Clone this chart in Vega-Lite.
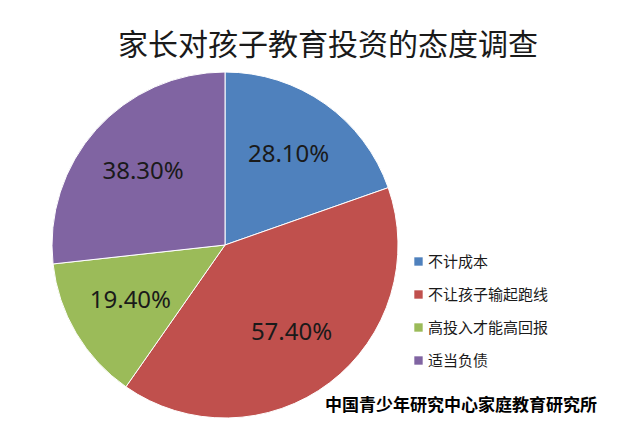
{
  "$schema": "https://vega.github.io/schema/vega-lite/v6.json",
  "background": "white",
  "padding": {"left": 50, "top": 31, "right": 10, "bottom": 5},
  "title": {
    "text": "家长对孩子教育投资的态度调查",
    "font": "Noto Sans CJK SC",
    "fontSize": 30,
    "fontWeight": "normal",
    "color": "#1a1a1a",
    "anchor": "start",
    "dx": 68,
    "offset": 9
  },
  "data": {
    "values": [
      {"idx": 1, "category": "不计成本", "value": 28.1, "label": "28.10%"},
      {"idx": 2, "category": "不让孩子输起跑线", "value": 57.4, "label": "57.40%"},
      {"idx": 3, "category": "高投入才能高回报", "value": 19.4, "label": "19.40%"},
      {"idx": 4, "category": "适当负债", "value": 38.3, "label": "38.30%"}
    ]
  },
  "vconcat": [
    {
      "width": 346,
      "height": 346,
      "title": {
        "text": "中国青少年研究中心家庭教育研究所",
        "orient": "bottom",
        "anchor": "start",
        "font": "Noto Sans CJK SC",
        "fontSize": 17,
        "fontWeight": "bold",
        "color": "#000000",
        "dx": 275,
        "offset": -22
      },
      "encoding": {
        "theta": {"field": "value", "type": "quantitative", "stack": true},
        "order": {"field": "idx", "type": "quantitative"}
      },
      "layer": [
        {
          "mark": {"type": "arc", "stroke": "#ffffff", "strokeWidth": 1, "outerRadius": 173},
          "encoding": {
            "color": {
              "field": "category",
              "type": "nominal",
              "scale": {
                "domain": ["不计成本", "不让孩子输起跑线", "高投入才能高回报", "适当负债"],
                "range": ["#4F81BD", "#C0504D", "#9BBB59", "#8064A2"]
              },
              "legend": {
                "title": null,
                "orient": "none",
                "legendX": 359,
                "legendY": 182,
                "symbolType": "square",
                "symbolSize": 70,
                "symbolStrokeWidth": 0,
                "labelFont": "Noto Sans CJK SC",
                "labelFontSize": 15,
                "labelColor": "#1a1a1a",
                "labelOffset": 2,
                "rowPadding": 17
              }
            }
          }
        },
        {
          "mark": {"type": "text", "radius": 110, "font": "Noto Sans", "fontSize": 24, "color": "#1a1a1a"},
          "encoding": {"text": {"field": "label", "type": "nominal"}}
        }
      ]
    }
  ],
  "config": {"view": {"stroke": null}}
}
